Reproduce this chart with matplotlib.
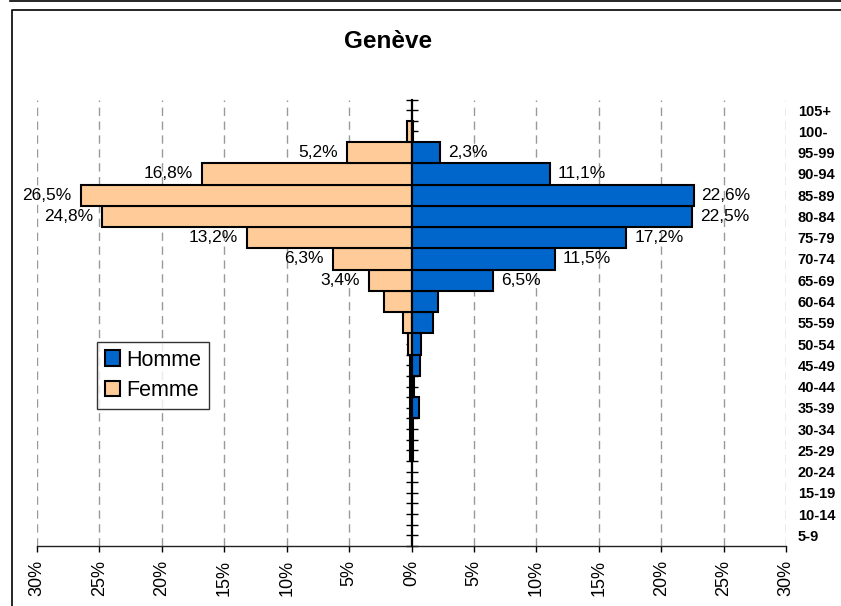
import matplotlib
matplotlib.use("Agg")
import matplotlib.pyplot as plt
import numpy as np
from matplotlib.lines import Line2D
from matplotlib.patches import Patch
from matplotlib.transforms import offset_copy

plt.rcParams['font.family'] = ['Liberation Sans', 'DejaVu Sans']

# Age groups, bottom to top
categories = ["5-9", "10-14", "15-19", "20-24", "25-29", "30-34", "35-39",
              "40-44", "45-49", "50-54", "55-59", "60-64", "65-69", "70-74",
              "75-79", "80-84", "85-89", "90-94", "95-99", "100-", "105+"]
homme = [0, 0, 0, 0, 0.1, 0.1, 0.6, 0.2, 0.7, 0.8, 1.7, 2.1, 6.5, 11.5,
         17.2, 22.5, 22.6, 11.1, 2.3, 0.1, 0]
femme = [0, 0, 0, 0, 0.1, 0.1, 0.1, 0.1, 0.1, 0.3, 0.7, 2.2, 3.4, 6.3,
         13.2, 24.8, 26.5, 16.8, 5.2, 0.4, 0]
labeled = ["65-69", "70-74", "75-79", "80-84", "85-89", "90-94", "95-99"]
xticks = [-30, -25, -20, -15, -10, -5, 0, 5, 10, 15, 20, 25, 30]
xticklabels = ["30%", "25%", "20%", "15%", "10%", "5%", "0%", "5%", "10%",
               "15%", "20%", "25%", "30%"]

W, H = 841, 606
fig = plt.figure(figsize=(W / 100, H / 100), dpi=100)
ax = fig.add_axes([37 / W, 1 - 546 / H, (786 - 37) / W, (546 - 99.5) / H])

y = np.arange(len(categories))
ax.barh(y, [-v for v in femme], height=1.0, color='#FFCC99',
        edgecolor='black', linewidth=1.5, zorder=2, label='Femme')
ax.barh(y, homme, height=1.0, color='#0066CC',
        edgecolor='black', linewidth=1.5, zorder=2, label='Homme')

ax.set_xlim(-30, 30)
ax.set_ylim(-0.5, len(categories) - 0.5)

# gridlines
for xv in xticks:
    if xv != 0:
        ax.axvline(xv, color='#999999', linestyle=(0, (6, 4)), linewidth=1.0, zorder=0)

# spines
for s in ['top', 'right']:
    ax.spines[s].set_visible(False)
ax.spines['left'].set_position(('data', 0))
ax.spines['left'].set_zorder(3)
ax.spines['left'].set_linewidth(1.5)
ax.spines['bottom'].set_linewidth(1.0)
ax.spines['bottom'].set_color('#222222')

ax.set_yticks(np.arange(-0.5, len(categories), 0.5))
ax.set_yticklabels([])
ax.tick_params(axis='y', direction='inout', length=8.5, width=1.0, zorder=3)

ax.set_xticks(xticks)
ax.set_xticklabels(xticklabels, rotation=90, fontsize=13)
ax.tick_params(axis='x', direction='out', length=4, width=1.0, pad=6)

# category labels on right
ax2 = ax.twinx()
ax2.set_ylim(ax.get_ylim())
ax2.set_yticks(y)
ax2.set_yticklabels(categories, fontsize=10.5, fontweight='bold')
ax2.tick_params(axis='y', length=0, pad=8.5)
for s in ax2.spines.values():
    s.set_visible(False)

# data labels
for i, c in enumerate(categories):
    if c in labeled:
        tr_l = offset_copy(ax.transData, fig=fig, x=-9, y=0, units='dots')
        tr_r = offset_copy(ax.transData, fig=fig, x=8, y=0, units='dots')
        ax.text(-femme[i], i, f"{femme[i]:.1f}%".replace('.', ','), transform=tr_l,
                ha='right', va='center', fontsize=12.5, zorder=4)
        ax.text(homme[i], i, f"{homme[i]:.1f}%".replace('.', ','), transform=tr_r,
                ha='left', va='center', fontsize=12.5, zorder=4)

# legend
handles = [Patch(facecolor='#0066CC', edgecolor='black', linewidth=1.5, label='Homme'),
           Patch(facecolor='#FFCC99', edgecolor='black', linewidth=1.5, label='Femme')]
leg = ax.legend(handles=handles, loc='upper left',
                bbox_to_anchor=((97 - 37) / 749, (546 - 342) / 446.5),
                borderaxespad=0, fontsize=15.5, frameon=True, fancybox=False,
                edgecolor='black', handlelength=0.7, handleheight=0.7,
                handletextpad=0.3, borderpad=0.35, labelspacing=0.45)
leg.get_frame().set_linewidth(1.0)
leg.set_zorder(5)

# title
fig.text(388.5 / W, 1 - 42 / H, "Genève", ha='center', va='center',
         fontsize=17.5, fontweight='bold')

# frame lines
fig.add_artist(Line2D([10 / W, 1], [1 - 0.8 / H, 1 - 0.8 / H], color='black', linewidth=1.2))
fig.add_artist(Line2D([12 / W, 12 / W, 1], [0, 1 - 10 / H, 1 - 10 / H], color='black', linewidth=1.2))

fig.savefig("out.png", dpi=100)
